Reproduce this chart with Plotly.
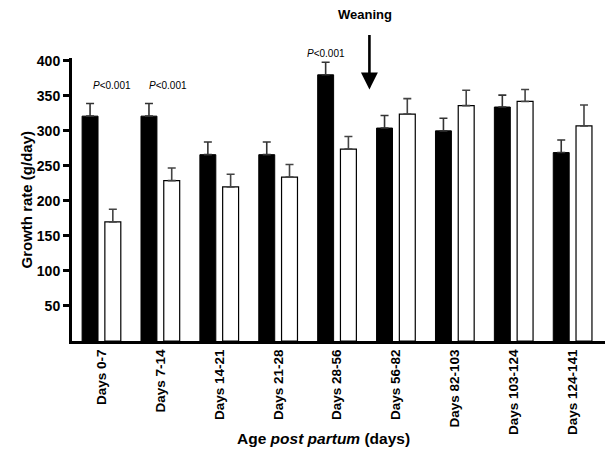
import plotly.graph_objects as go

categories = ["Days 0-7", "Days 7-14", "Days 14-21", "Days 21-28", "Days 28-56",
              "Days 56-82", "Days 82-103", "Days 103-124", "Days 124-141"]
black_values = [321, 321, 266, 266, 380, 304, 300, 334, 269]
black_errors = [18, 18, 18, 18, 18, 18, 18, 17, 18]
white_values = [170, 229, 220, 234, 274, 324, 336, 342, 307]
white_errors = [18, 18, 18, 18, 18, 22, 22, 17, 30]
y_ticks = [50, 100, 150, 200, 250, 300, 350, 400]
p_label_positions = [(0, 365, 0.18), (1, 365, 0.13), (4, 411, -0.18)]
p_label_text = "<i>P</i><0.001"

FONT = "Arial, Liberation Sans, Helvetica, sans-serif"
Y_MAX = 404
xs = list(range(len(categories)))

fig = go.Figure()
fig.add_trace(go.Bar(
    x=xs, y=black_values, marker=dict(color="black", line=dict(color="black", width=1)),
    error_y=dict(type="data", array=black_errors, arrayminus=[0] * 9, symmetric=False,
                 color="#333333", thickness=1.6, width=4),
    showlegend=False))
fig.add_trace(go.Bar(
    x=xs, y=white_values, marker=dict(color="white", line=dict(color="black", width=1.2)),
    error_y=dict(type="data", array=white_errors, arrayminus=[0] * 9, symmetric=False,
                 color="#444444", thickness=1.6, width=4),
    showlegend=False))

annotations = []
for idx, yv, off in p_label_positions:
    annotations.append(dict(x=idx + off, y=yv / Y_MAX, xref="x", yref="paper", text=p_label_text,
                            showarrow=False, xanchor="center", yanchor="middle",
                            font=dict(family=FONT, size=10, color="black")))
# Weaning arrow
annotations.append(dict(x=4.55, y=359, xref="x", yref="y", ax=0, ay=-56, axref="pixel",
                        ayref="pixel", text="", showarrow=True, arrowhead=2, arrowsize=1.3,
                        arrowwidth=2.6, arrowcolor="black"))
annotations.append(dict(x=4.47, y=1.152, xref="x", yref="paper", text="<b>Weaning</b>",
                        showarrow=False, xanchor="center", yanchor="middle",
                        font=dict(family=FONT, size=13, color="black")))
annotations.append(dict(x=0.472, y=-0.344, xref="paper", yref="paper",
                        text="<b>Age <i>post partum</i> (days)</b>", showarrow=False,
                        xanchor="center", yanchor="middle",
                        font=dict(family=FONT, size=15.5, color="black")))
annotations.append(dict(x=-0.0863, y=0.5, xref="paper", yref="paper",
                        text="<b>Growth rate (g/day)</b>", showarrow=False, textangle=-90,
                        xanchor="center", yanchor="middle",
                        font=dict(family=FONT, size=15, color="black")))

fig.update_layout(
    width=608, height=452,
    margin=dict(l=72, r=3, t=58, b=111),
    paper_bgcolor="white", plot_bgcolor="white",
    barmode="group", bargap=0.227, bargroupgap=0.3,
    annotations=annotations,
    font=dict(family=FONT, color="black"),
)
fig.update_xaxes(
    range=[-0.5, 8.55], tickmode="array", tickvals=xs, ticktext=categories,
    tickangle=-90, tickfont=dict(family=FONT, size=13.5, color="black", weight="bold"),
    showline=True, linecolor="black", linewidth=3, ticks="", showgrid=False,
    zeroline=False, fixedrange=True, automargin=False,
)
fig.update_yaxes(
    range=[0, Y_MAX], tickmode="array", tickvals=y_ticks,
    tickfont=dict(family=FONT, size=14, color="black", weight="bold"),
    showline=True, linecolor="black", linewidth=3, ticks="outside", ticklen=6,
    tickwidth=2.5, tickcolor="black", showgrid=False, zeroline=False, automargin=False,
)

fig.write_html(
    "out.html",
    config={"displayModeBar": False},
    post_script="document.body.style.margin='0';document.body.style.overflow='hidden';"
                "document.documentElement.style.overflow='hidden';",
)
